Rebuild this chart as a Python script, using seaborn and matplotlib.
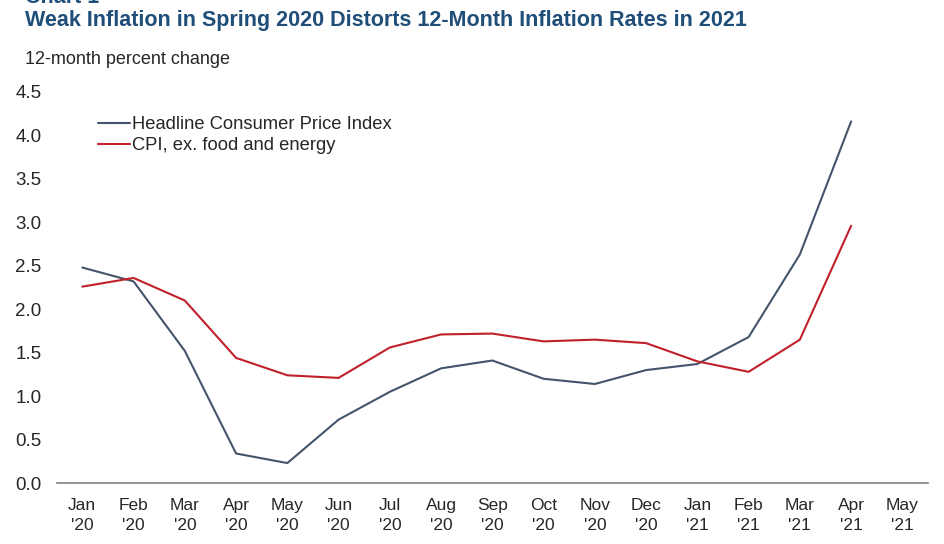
import numpy as np
import pandas as pd
import matplotlib
matplotlib.use("Agg")
import matplotlib.pyplot as plt
import seaborn as sns

months = ["Jan\n'20", "Feb\n'20", "Mar\n'20", "Apr\n'20", "May\n'20", "Jun\n'20",
          "Jul\n'20", "Aug\n'20", "Sep\n'20", "Oct\n'20", "Nov\n'20", "Dec\n'20",
          "Jan\n'21", "Feb\n'21", "Mar\n'21", "Apr\n'21", "May\n'21"]
headline = [2.48, 2.32, 1.52, 0.34, 0.23, 0.73, 1.05, 1.32, 1.41, 1.20, 1.14, 1.30,
            1.37, 1.68, 2.63, 4.16]
core = [2.26, 2.36, 2.10, 1.44, 1.24, 1.21, 1.56, 1.71, 1.72, 1.63, 1.65, 1.61,
        1.40, 1.28, 1.65, 2.96]
series_names = ["Headline Consumer Price Index", "CPI, ex. food and energy"]

df = pd.concat([
    pd.DataFrame({"x": range(len(headline)), "value": headline, "series": series_names[0]}),
    pd.DataFrame({"x": range(len(core)), "value": core, "series": series_names[1]}),
])

sns.set_style("white")
plt.rcParams["font.family"] = ["Liberation Sans", "DejaVu Sans"]

fig = plt.figure(figsize=(9.45, 5.44), dpi=100)
ax = fig.add_axes([0.060, 0.112, 0.922, 0.719])

sns.lineplot(data=df, x="x", y="value", hue="series",
             palette={series_names[0]: "#44546A", series_names[1]: "#C0202A"},
             linewidth=1.5, ax=ax)

ax.set_xlim(-0.5, len(months) - 0.5)
ax.set_ylim(0, 4.5)
ax.set_yticks(np.arange(0, 4.6, 0.5))
ax.set_yticklabels([f"{v:.1f}" for v in np.arange(0, 4.6, 0.5)], fontsize=13.5)
ax.set_xticks(range(len(months)))
ax.set_xticklabels(months, fontsize=12.5, linespacing=1.35)
ax.set_xticks(np.arange(-0.5, len(months), 1), minor=True)
ax.tick_params(axis="x", which="major", length=0, pad=11)
ax.tick_params(axis="x", which="minor", length=6, width=1, color="#808080", direction="out")
ax.tick_params(axis="y", length=0, pad=11)
ax.set_xlabel("")
ax.set_ylabel("")

for s in ["top", "right", "left"]:
    ax.spines[s].set_visible(False)
ax.spines["bottom"].set_color("#808080")
ax.spines["bottom"].set_linewidth(1.2)

leg = ax.legend(loc="upper left", bbox_to_anchor=(0.028, 0.98), frameon=False,
                fontsize=13.2, handlelength=1.75, handletextpad=0.1, labelspacing=0.22)

fig.text(0.026, 1.005, "Chart 1", fontsize=15.5, fontweight="bold", color="#1F4E79",
         va="center", ha="left")
fig.text(0.026, 0.963, "Weak Inflation in Spring 2020 Distorts 12-Month Inflation Rates in 2021",
         fontsize=15.5, fontweight="bold", color="#1F4E79", va="center", ha="left")
fig.text(0.026, 0.890, "12-month percent change", fontsize=13, va="center", ha="left")

fig.savefig("out.png", dpi=100)
